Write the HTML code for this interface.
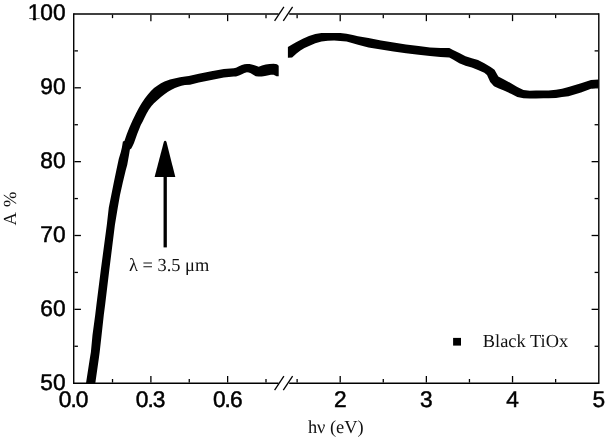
<!DOCTYPE html>
<html><head><meta charset="utf-8"><title>Black TiOx absorptance</title>
<style>
html,body{margin:0;padding:0;background:#fff;}
body{width:607px;height:441px;overflow:hidden;}
svg{display:block;text-rendering:geometricPrecision;}
.a{font-family:"Liberation Sans",Arial,Helvetica,sans-serif;font-size:22.7px;fill:#000;stroke:#000;stroke-width:0.5px;}
.t{font-family:"Liberation Serif","Times New Roman",Times,serif;font-size:18.4px;fill:#111;}
</style></head>
<body>
<svg width="607" height="441" viewBox="0 0 607 441">
<rect width="607" height="441" fill="#fff"/>
<g fill="#000" stroke="none">
<polygon points="86.0,383.2 89.9,358.0 90.9,352.0 92.5,335.0 95.2,315.0 96.4,305.0 100.8,270.0 106.8,225.0 108.8,207.5 111.3,195.0 113.8,182.5 116.4,170.0 118.8,158.8 120.7,152.5 121.9,147.5 122.9,141.5 124.4,141.0 126.9,133.8 129.4,127.5 132.5,120.5 136.3,112.8 138.8,108.0 141.6,103.3 144.8,98.6 147.7,94.7 150.7,91.3 154.0,88.1 157.6,85.4 161.0,83.2 164.5,81.4 170.0,79.5 174.4,78.4 180.0,77.2 185.0,76.4 188.8,75.9 198.8,73.8 211.3,71.3 223.8,69.0 233.8,68.2 236.0,67.7 239.0,66.2 241.9,64.9 244.4,64.2 246.9,63.9 249.5,64.0 251.8,64.4 255.3,65.6 258.7,66.7 262.0,65.6 265.7,64.4 269.5,63.9 273.6,63.7 277.0,64.3 278.7,65.8 278.7,76.2 276.5,76.2 273.6,74.8 271.0,74.8 268.6,75.2 265.0,76.0 261.7,76.5 258.5,76.6 255.8,76.2 253.2,74.8 250.8,73.3 248.8,72.5 246.9,72.3 244.4,73.0 241.9,74.2 239.0,75.5 236.0,76.5 233.8,76.6 223.8,77.5 211.3,80.0 198.8,82.5 190.0,84.8 185.0,85.0 181.5,85.7 178.4,86.8 175.0,88.1 171.5,89.7 168.0,91.8 164.5,94.2 161.0,97.0 157.6,100.1 154.0,103.2 151.5,105.9 148.8,109.8 146.5,113.8 144.5,117.7 142.6,121.7 140.8,125.0 139.0,129.5 137.2,134.1 135.6,138.6 134.0,143.1 132.6,146.0 131.3,148.6 129.9,149.5 129.0,154.9 128.2,159.5 127.2,165.0 125.8,170.0 122.8,182.5 120.0,195.0 117.8,207.5 114.9,225.0 109.3,270.0 105.1,305.0 103.8,315.0 101.6,335.0 99.7,352.0 98.9,358.0 95.3,383.2"/>
<polygon points="287.9,47.0 292.1,44.6 296.5,42.0 302.8,38.8 309.0,36.0 315.3,34.0 321.5,33.1 327.8,32.9 334.1,32.9 340.3,33.1 346.6,33.8 352.8,35.0 358.0,36.2 368.5,38.1 381.0,40.6 393.5,42.5 406.0,44.4 418.6,45.9 430.0,47.5 440.5,48.1 449.3,48.1 453.0,50.0 459.3,53.1 465.5,56.3 471.8,58.2 478.0,60.0 484.3,63.2 490.6,66.9 494.5,69.7 498.3,76.6 504.5,79.7 511.0,83.2 517.3,86.9 523.5,90.0 529.8,90.7 536.0,90.5 543.5,90.6 548.6,90.4 556.0,89.8 562.0,88.8 568.5,86.9 581.0,83.2 591.0,80.0 598.6,79.4 598.6,87.6 591.0,88.8 581.0,92.6 568.5,96.3 562.0,96.9 556.0,97.9 548.6,98.2 543.5,98.2 536.0,98.6 529.8,98.6 523.5,98.2 517.3,96.9 511.0,93.8 504.5,90.8 498.3,88.2 494.0,86.3 490.2,82.0 487.0,75.0 484.3,72.7 478.0,70.0 471.8,67.5 465.5,65.7 459.3,63.2 453.0,59.4 449.3,57.5 440.5,56.9 430.0,56.0 418.6,54.7 406.0,53.2 393.5,51.5 381.0,49.4 368.5,47.5 358.0,44.8 352.8,43.2 346.6,41.5 340.3,40.9 334.1,40.6 327.8,40.8 321.5,41.5 315.3,43.2 309.0,45.9 304.5,48.0 300.4,50.6 296.5,53.5 292.1,57.4 287.9,57.7"/>
<rect x="453.1" y="337.9" width="7.9" height="7.7"/>
<polygon points="165.15,140.7 165.9,141 166.5,141.9 175.3,177 154.6,177 163.8,141.9 164.4,141"/>
<rect x="163.55" y="176" width="3.3" height="71.4"/>
</g>
<g stroke="#000" fill="none" stroke-linecap="butt">
<line x1="73.72" y1="13.15" x2="73.72" y2="384.00" stroke-width="1.4"/>
<line x1="598.80" y1="13.15" x2="598.80" y2="384.00" stroke-width="1.4"/>
<line x1="73.72" y1="13.95" x2="278.60" y2="13.95" stroke-width="1.4"/>
<line x1="289.20" y1="13.95" x2="598.80" y2="13.95" stroke-width="1.4"/>
<line x1="73.72" y1="383.20" x2="278.60" y2="383.20" stroke-width="1.4"/>
<line x1="289.20" y1="383.20" x2="598.80" y2="383.20" stroke-width="1.4"/>
<line x1="274.60" y1="20.95" x2="283.90" y2="6.95" stroke-width="1.3"/>
<line x1="283.30" y1="20.95" x2="292.60" y2="6.95" stroke-width="1.3"/>
<line x1="274.60" y1="390.20" x2="283.90" y2="376.20" stroke-width="1.3"/>
<line x1="283.30" y1="390.20" x2="292.60" y2="376.20" stroke-width="1.3"/>
<line x1="150.89" y1="14.65" x2="150.89" y2="21.15" stroke-width="1.3"/>
<line x1="150.89" y1="382.50" x2="150.89" y2="376.00" stroke-width="1.3"/>
<line x1="227.63" y1="14.65" x2="227.63" y2="21.15" stroke-width="1.3"/>
<line x1="227.63" y1="382.50" x2="227.63" y2="376.00" stroke-width="1.3"/>
<line x1="112.52" y1="14.65" x2="112.52" y2="18.15" stroke-width="1.3"/>
<line x1="112.52" y1="382.50" x2="112.52" y2="379.00" stroke-width="1.3"/>
<line x1="189.26" y1="14.65" x2="189.26" y2="18.15" stroke-width="1.3"/>
<line x1="189.26" y1="382.50" x2="189.26" y2="379.00" stroke-width="1.3"/>
<line x1="266.00" y1="14.65" x2="266.00" y2="18.15" stroke-width="1.3"/>
<line x1="266.00" y1="382.50" x2="266.00" y2="379.00" stroke-width="1.3"/>
<line x1="340.20" y1="14.65" x2="340.20" y2="21.15" stroke-width="1.3"/>
<line x1="340.20" y1="382.50" x2="340.20" y2="376.00" stroke-width="1.3"/>
<line x1="426.37" y1="14.65" x2="426.37" y2="21.15" stroke-width="1.3"/>
<line x1="426.37" y1="382.50" x2="426.37" y2="376.00" stroke-width="1.3"/>
<line x1="512.54" y1="14.65" x2="512.54" y2="21.15" stroke-width="1.3"/>
<line x1="512.54" y1="382.50" x2="512.54" y2="376.00" stroke-width="1.3"/>
<line x1="297.12" y1="14.65" x2="297.12" y2="18.15" stroke-width="1.3"/>
<line x1="297.12" y1="382.50" x2="297.12" y2="379.00" stroke-width="1.3"/>
<line x1="383.28" y1="14.65" x2="383.28" y2="18.15" stroke-width="1.3"/>
<line x1="383.28" y1="382.50" x2="383.28" y2="379.00" stroke-width="1.3"/>
<line x1="469.45" y1="14.65" x2="469.45" y2="18.15" stroke-width="1.3"/>
<line x1="469.45" y1="382.50" x2="469.45" y2="379.00" stroke-width="1.3"/>
<line x1="555.62" y1="14.65" x2="555.62" y2="18.15" stroke-width="1.3"/>
<line x1="555.62" y1="382.50" x2="555.62" y2="379.00" stroke-width="1.3"/>
<line x1="74.42" y1="309.35" x2="80.92" y2="309.35" stroke-width="1.3"/>
<line x1="598.10" y1="309.35" x2="591.60" y2="309.35" stroke-width="1.3"/>
<line x1="74.42" y1="235.50" x2="80.92" y2="235.50" stroke-width="1.3"/>
<line x1="598.10" y1="235.50" x2="591.60" y2="235.50" stroke-width="1.3"/>
<line x1="74.42" y1="161.65" x2="80.92" y2="161.65" stroke-width="1.3"/>
<line x1="598.10" y1="161.65" x2="591.60" y2="161.65" stroke-width="1.3"/>
<line x1="74.42" y1="87.80" x2="80.92" y2="87.80" stroke-width="1.3"/>
<line x1="598.10" y1="87.80" x2="591.60" y2="87.80" stroke-width="1.3"/>
<line x1="74.42" y1="346.27" x2="77.92" y2="346.27" stroke-width="1.3"/>
<line x1="598.10" y1="346.27" x2="594.60" y2="346.27" stroke-width="1.3"/>
<line x1="74.42" y1="272.43" x2="77.92" y2="272.43" stroke-width="1.3"/>
<line x1="598.10" y1="272.43" x2="594.60" y2="272.43" stroke-width="1.3"/>
<line x1="74.42" y1="198.57" x2="77.92" y2="198.57" stroke-width="1.3"/>
<line x1="598.10" y1="198.57" x2="594.60" y2="198.57" stroke-width="1.3"/>
<line x1="74.42" y1="124.73" x2="77.92" y2="124.73" stroke-width="1.3"/>
<line x1="598.10" y1="124.73" x2="594.60" y2="124.73" stroke-width="1.3"/>
<line x1="74.42" y1="50.88" x2="77.92" y2="50.88" stroke-width="1.3"/>
<line x1="598.10" y1="50.88" x2="594.60" y2="50.88" stroke-width="1.3"/>
</g>
<g>
<text class="a" x="65.6" y="389.7" text-anchor="end">50</text>
<text class="a" x="65.6" y="315.9" text-anchor="end">60</text>
<text class="a" x="65.6" y="242.0" text-anchor="end">70</text>
<text class="a" x="65.6" y="168.2" text-anchor="end">80</text>
<text class="a" x="65.6" y="94.3" text-anchor="end">90</text>
<text class="a" x="65.6" y="20.4" text-anchor="end">100</text>
<text class="a" style="letter-spacing:-0.9px" x="73.1" y="406.9" text-anchor="middle">0.0</text>
<text class="a" style="letter-spacing:-0.9px" x="150.1" y="406.9" text-anchor="middle">0.3</text>
<text class="a" style="letter-spacing:-0.9px" x="227.3" y="406.9" text-anchor="middle">0.6</text>
<text class="a" x="340.2" y="406.9" text-anchor="middle">2</text>
<text class="a" x="426.4" y="406.9" text-anchor="middle">3</text>
<text class="a" x="512.5" y="406.9" text-anchor="middle">4</text>
<text class="a" x="598.7" y="406.9" text-anchor="middle">5</text>
<text class="t" x="307.9" y="433.4">hν (eV)</text>
<text class="t" x="129" y="271">λ = 3.5 μm</text>
<text class="t" x="482.8" y="346.9">Black TiOx</text>
<text class="t" style="word-spacing:1.5px" transform="translate(16.2,225.4) rotate(-90)">A %</text>
</g>
<g fill="#fff"><rect x="28" y="18.6" width="4.85" height="3.6"/><rect x="36.15" y="18.6" width="4.4" height="3.6"/></g>
</svg>
</body></html>
